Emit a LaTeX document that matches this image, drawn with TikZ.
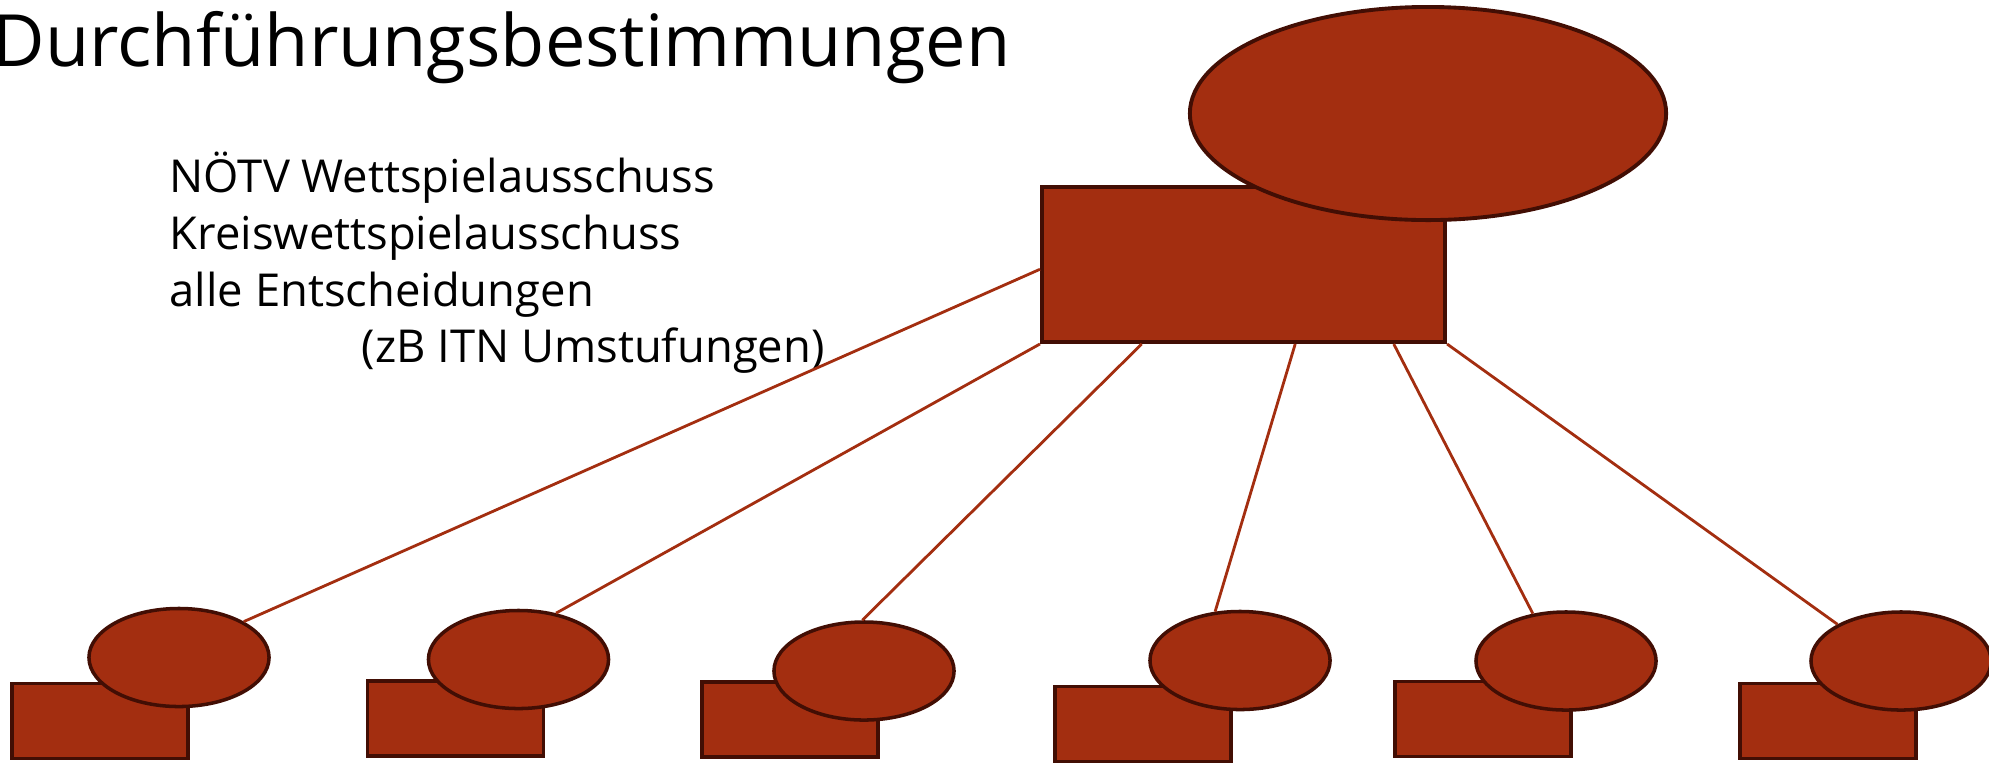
\documentclass[tikz,border=0pt]{standalone}
\usepackage{fontspec}
\setmainfont{Open Sans}
\usetikzlibrary{shapes.geometric,calc}
\definecolor{rust}{RGB}{163,46,16}
\definecolor{rustdark}{RGB}{66,14,4}

\begin{document}
\begin{tikzpicture}[x=0.01cm,y=-0.01cm,
    blob/.style={ellipse,draw=rustdark,fill=rust,line width=1pt,inner sep=0pt,
        minimum width=1.80cm,minimum height=0.98cm},
    box/.style={rectangle,draw=rustdark,fill=rust,line width=1pt,inner sep=0pt,
        minimum width=1.76cm,minimum height=0.75cm},
    link/.style={draw=rust,line width=0.8pt},
    say/.style={anchor=base west,inner sep=0pt,font=\fontsize{12.9}{15}\selectfont}]
    \useasboundingbox (0,0) rectangle (1989,763);

            %title and text
            \node[anchor=base west,inner sep=0pt,font=\fontsize{20.5}{24}\selectfont] (title) at (-8,66) {Durchführungsbestimmungen};

            \node[say] (l1) at (169,192) {NÖTV Wettspielausschuss};
            \node[say] (l2) at (169,249) {Kreiswettspielausschuss};
            \node[say] (l3) at (169,306) {alle Entscheidungen};
            \node[say] (l4) at (361,362) {(zB ITN Umstufungen)};

            %top
            \node[box,line width=1.1pt,minimum width=4.03cm,minimum height=1.55cm] (top) at (1243.5,264.5) {};

            \node[blob,line width=1.1pt,minimum width=4.76cm,minimum height=2.13cm] (head) at (1428,113.5) {};

            %bottom row
            \node[box] (r1) at (100,721) {};
            \node[blob] (e1) at (179,657.5) {};

            \node[box] (r2) at (455.5,718.5) {};
            \node[blob] (e2) at (518.5,659.5) {};

            \node[box] (r3) at (790,719.5) {};
            \node[blob] (e3) at (864,671) {};

            \node[box] (r4) at (1143,724) {};
            \node[blob] (e4) at (1240,660.5) {};

            \node[box] (r5) at (1483,719) {};
            \node[blob] (e5) at (1566,661) {};

            \node[box] (r6) at (1828,721) {};
            \node[blob] (e6) at (1901,661) {};

            %links
            \draw[link] ($(top.north west)!0.53!(top.south west)$) -- (e1.29);
            \draw[link] (top.south west) -- (e2.51);
            \draw[link] ($(top.south west)!0.25!(top.south east)$) -- (e3.92);
            \draw[link] ($(top.south west)!0.627!(top.south east)$) -- (e4.117);
            \draw[link] ($(top.south west)!0.869!(top.south east)$) -- (e5.125);
            \draw[link] (top.south east) -- (e6.150);
\end{tikzpicture}
\end{document}
